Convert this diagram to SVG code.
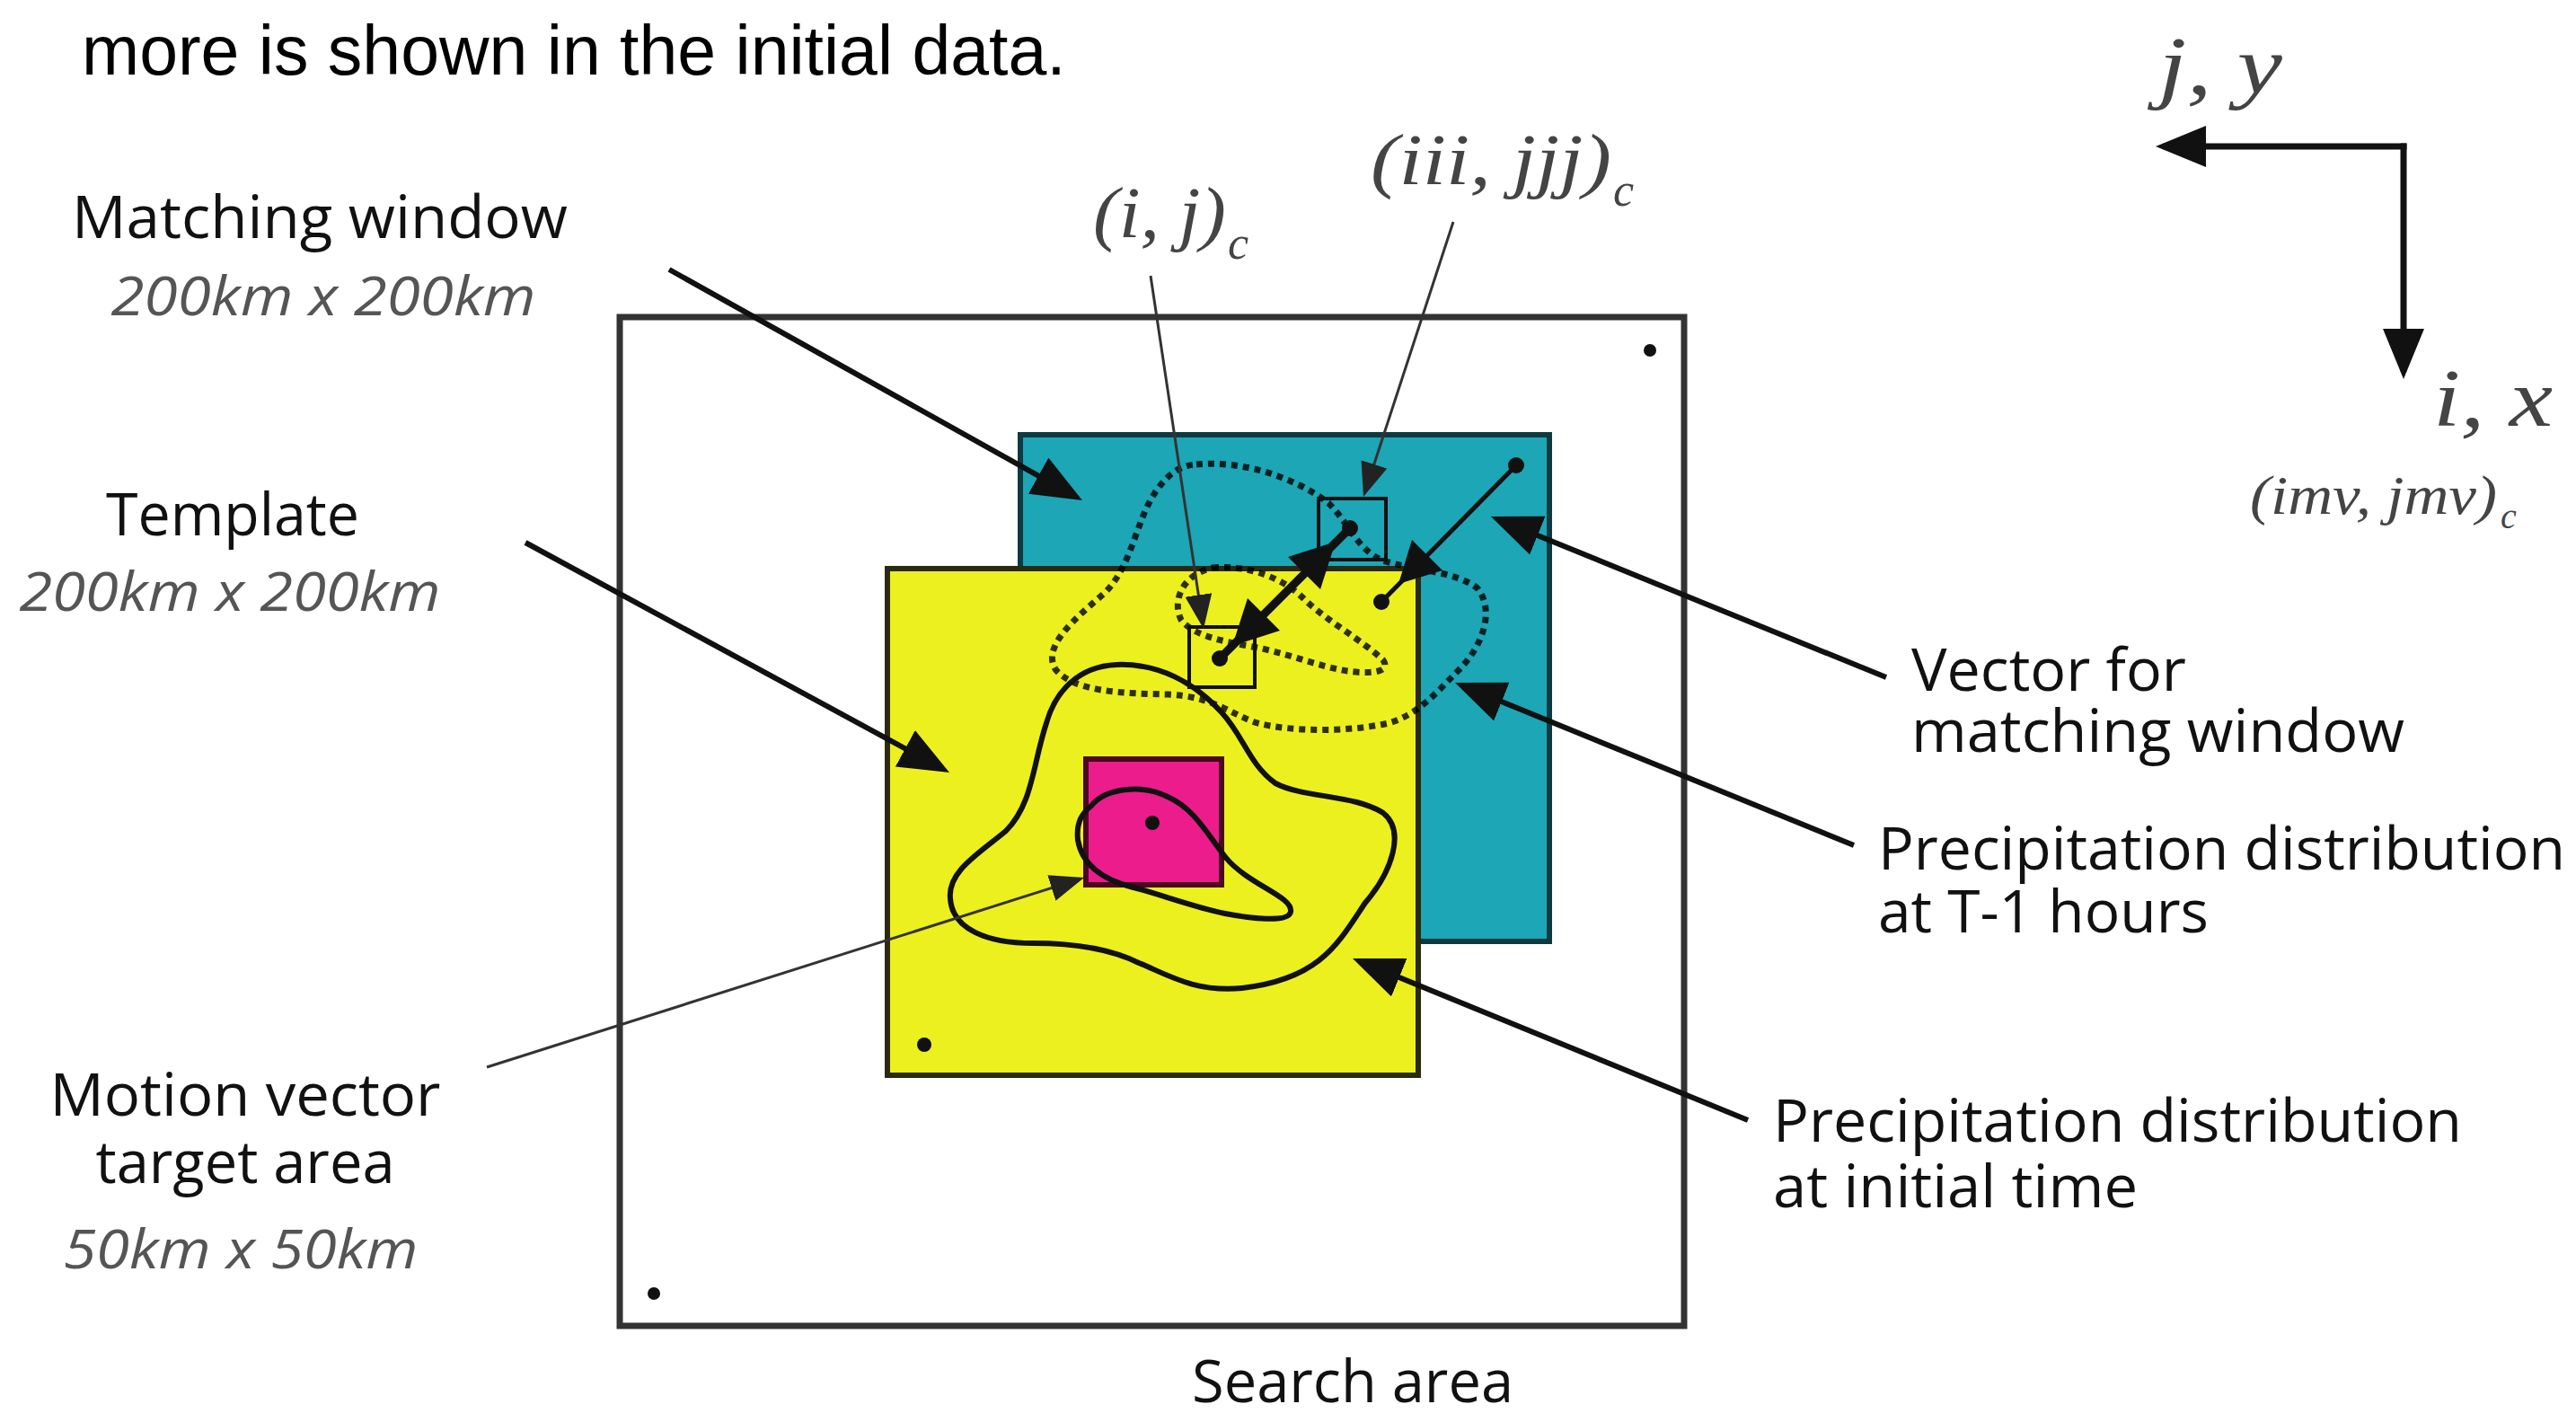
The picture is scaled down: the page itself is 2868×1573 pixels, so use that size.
<svg xmlns="http://www.w3.org/2000/svg" width="2868" height="1573" viewBox="0 0 2868 1573">
<defs>
<style>
.lbl{font-family:"Open Sans","Liberation Sans",sans-serif;font-size:66px;fill:#111}
.dim{font-family:"Open Sans","Liberation Sans",sans-serif;font-style:italic;font-size:60px;fill:#555}
.math{font-family:"Liberation Serif","DejaVu Serif",serif;font-style:italic;fill:#444}
.lead{stroke:#111;stroke-width:6;fill:none}
.thin{stroke:#333;stroke-width:3;fill:none}
.dot{fill:#111}
.dotted{fill:none;stroke:#000;stroke-opacity:0.8;stroke-width:7;stroke-dasharray:7 6}
.solid{fill:none;stroke:#111;stroke-width:6}
.sq{fill:none;stroke:#111;stroke-width:4}
</style>
<marker id="big" markerUnits="userSpaceOnUse" markerWidth="56" markerHeight="46" refX="44" refY="23" orient="auto"><path d="M0,0 L56,23 L0,46 Z" fill="#111"/></marker>
<marker id="small" markerUnits="userSpaceOnUse" markerWidth="38" markerHeight="30" refX="30" refY="15" orient="auto"><path d="M0,0 L38,15 L0,30 Z" fill="#222"/></marker>
</defs>
<rect width="2868" height="1573" fill="#fff"/>

<text x="91" y="83" font-family="Liberation Sans, Arial, sans-serif" font-size="77" fill="#000">more is shown in the initial data.</text>

<g id="search-area">
<rect x="690" y="353" width="1185" height="1123" fill="#fff" stroke="#333" stroke-width="7"/>
<circle class="dot" cx="1837" cy="390" r="7"/>
<circle class="dot" cx="728" cy="1440" r="7"/>
<text class="lbl" x="1327" y="1561" textLength="358" lengthAdjust="spacingAndGlyphs">Search area</text>
</g>

<g id="matching-window-box">
<rect x="1136" y="484" width="589" height="564" fill="#1ca6b6" stroke="#0d3a40" stroke-width="6"/>
</g>

<g id="template-box">
<rect x="988" y="633" width="591" height="564" fill="#ecf01f" stroke="#2a2a10" stroke-width="6"/>
<circle class="dot" cx="1029" cy="1163" r="8"/>
</g>

<g id="target-area-box">
<rect x="1209" y="845" width="151" height="140" fill="#ec1c8c" stroke="#4a0820" stroke-width="6"/>
</g>

<g id="precip-t-1">
<path class="dotted" d="M1332,517 C1380,512 1440,530 1479,560 C1500,580 1510,610 1537,623 C1570,635 1620,635 1645,655 C1665,680 1650,720 1625,745 C1600,770 1580,795 1546,805 C1500,815 1440,815 1400,805 C1370,795 1350,775 1300,773 C1250,772 1195,770 1175,745 C1160,720 1195,690 1230,660 C1260,630 1265,580 1285,550 C1298,530 1312,518 1332,517 Z"/>
<path class="dotted" d="M1350,632 C1390,628 1430,645 1450,665 C1475,690 1520,715 1540,735 C1550,750 1520,750 1500,747 C1470,742 1440,730 1405,722 C1370,715 1330,710 1315,690 C1305,670 1315,640 1350,632 Z"/>
</g>

<g id="precip-initial">
<path class="solid" d="M1243,740 C1290,738 1330,760 1360,793 C1385,820 1390,850 1420,872 C1450,888 1510,885 1540,905 C1565,925 1550,970 1520,1005 C1490,1050 1470,1090 1383,1100 C1330,1105 1300,1085 1268,1072 C1240,1058 1200,1050 1150,1050 C1100,1050 1060,1035 1058,1000 C1055,970 1090,950 1120,925 C1150,895 1150,850 1165,805 C1175,770 1200,742 1243,740 Z"/>
<path class="solid" d="M1215,897 C1230,878 1270,872 1300,887 C1330,900 1345,930 1365,955 C1390,985 1440,998 1437,1015 C1435,1028 1390,1022 1364,1017 C1330,1010 1290,995 1262,988 C1230,980 1205,965 1200,935 C1198,915 1205,905 1215,897 Z"/>
<circle class="dot" cx="1283" cy="916" r="8"/>
</g>

<g id="point-iii-jjj">
<rect class="sq" x="1468" y="555" width="75" height="68"/>
</g>
<g id="point-i-j">
<rect class="sq" x="1324" y="698" width="73" height="67"/>
</g>

<g id="vectors">
<line x1="1358" y1="733" x2="1503" y2="588" stroke="#111" stroke-width="9"/>
<polygon points="1487,603 1470,656 1434,620" fill="#111"/>
<polygon points="1372,719 1425,702 1389,666" fill="#111"/>
<circle class="dot" cx="1358" cy="733" r="9"/>
<circle class="dot" cx="1503" cy="588" r="9"/>
<line x1="1688" y1="518" x2="1538" y2="670" stroke="#111" stroke-width="5"/>
<polygon points="1557,650 1606,635 1572,601" fill="#111"/>
<circle class="dot" cx="1688" cy="518" r="9"/>
<circle class="dot" cx="1538" cy="670" r="9"/>
</g>

<g id="axes">
<line x1="2676" y1="163" x2="2412" y2="163" stroke="#111" stroke-width="7" stroke-linecap="square" marker-end="url(#big)"/>
<line x1="2676" y1="163" x2="2676" y2="410" stroke="#111" stroke-width="7" stroke-linecap="square" marker-end="url(#big)"/>
<text class="math" x="2403" y="104" font-size="90" fill="#333" textLength="138" lengthAdjust="spacingAndGlyphs">j, y</text>
<text class="math" x="2709" y="474" font-size="90" fill="#333" textLength="133" lengthAdjust="spacingAndGlyphs">i, x</text>
<text class="math" x="2505" y="572" font-size="62" fill="#666" textLength="275" lengthAdjust="spacingAndGlyphs">(imv, jmv)</text>
<text class="math" x="2784" y="588" font-size="40" fill="#666">c</text>
</g>

<g id="labels">
<g id="label-matching-window">
<text class="lbl" x="356" y="265" text-anchor="middle" textLength="552" lengthAdjust="spacingAndGlyphs">Matching window</text>
<text class="dim" x="360" y="351" text-anchor="middle" textLength="473" lengthAdjust="spacingAndGlyphs">200km x 200km</text>
</g>
<g id="label-template">
<text class="lbl" x="259" y="596" text-anchor="middle" textLength="282" lengthAdjust="spacingAndGlyphs">Template</text>
<text class="dim" x="256" y="680" text-anchor="middle" textLength="469" lengthAdjust="spacingAndGlyphs">200km x 200km</text>
</g>
<g id="label-motion-vector">
<text class="lbl" x="273" y="1242" text-anchor="middle" textLength="435" lengthAdjust="spacingAndGlyphs">Motion vector</text>
<text class="lbl" x="273" y="1317" text-anchor="middle" textLength="333" lengthAdjust="spacingAndGlyphs">target area</text>
<text class="dim" x="268" y="1412" text-anchor="middle" textLength="395" lengthAdjust="spacingAndGlyphs">50km x 50km</text>
</g>
<g id="label-vector">
<text class="lbl" x="2128" y="769" textLength="306" lengthAdjust="spacingAndGlyphs">Vector for</text>
<text class="lbl" x="2128" y="837" textLength="549" lengthAdjust="spacingAndGlyphs">matching window</text>
</g>
<g id="label-t-1">
<text class="lbl" x="2091" y="968" textLength="765" lengthAdjust="spacingAndGlyphs">Precipitation distribution</text>
<text class="lbl" x="2091" y="1038" textLength="368" lengthAdjust="spacingAndGlyphs">at T-1 hours</text>
</g>
<g id="label-initial">
<text class="lbl" x="1974" y="1271" textLength="767" lengthAdjust="spacingAndGlyphs">Precipitation distribution</text>
<text class="lbl" x="1974" y="1344" textLength="406" lengthAdjust="spacingAndGlyphs">at initial time</text>
</g>
<g id="label-i-j">
<text class="math" x="1217" y="264" font-size="80" textLength="148" lengthAdjust="spacingAndGlyphs">(i, j)</text>
<text class="math" x="1367" y="288" font-size="52">c</text>
</g>
<g id="label-iii-jjj">
<text class="math" x="1526" y="205" font-size="80" textLength="268" lengthAdjust="spacingAndGlyphs">(iii, jjj)</text>
<text class="math" x="1796" y="229" font-size="52">c</text>
</g>
</g>

<g id="connectors">
<line class="lead" x1="745" y1="300" x2="1194.5" y2="551.1" marker-end="url(#big)"/>
<line class="lead" x1="585" y1="604" x2="1046.5" y2="854.3" marker-end="url(#big)"/>
<line class="lead" x1="2100" y1="754" x2="1671.1" y2="579.5" marker-end="url(#big)"/>
<line class="lead" x1="2064" y1="941" x2="1631.1" y2="764.5" marker-end="url(#big)"/>
<line class="lead" x1="1946" y1="1247" x2="1517.1" y2="1071.5" marker-end="url(#big)"/>
<line class="thin" x1="542" y1="1188" x2="1199.4" y2="979.4" marker-end="url(#small)"/>
<line class="thin" x1="1281" y1="307" x2="1338.8" y2="692.1" marker-end="url(#small)"/>
<line class="thin" x1="1618" y1="247" x2="1520.5" y2="545.4" marker-end="url(#small)"/>
</g>
</svg>
